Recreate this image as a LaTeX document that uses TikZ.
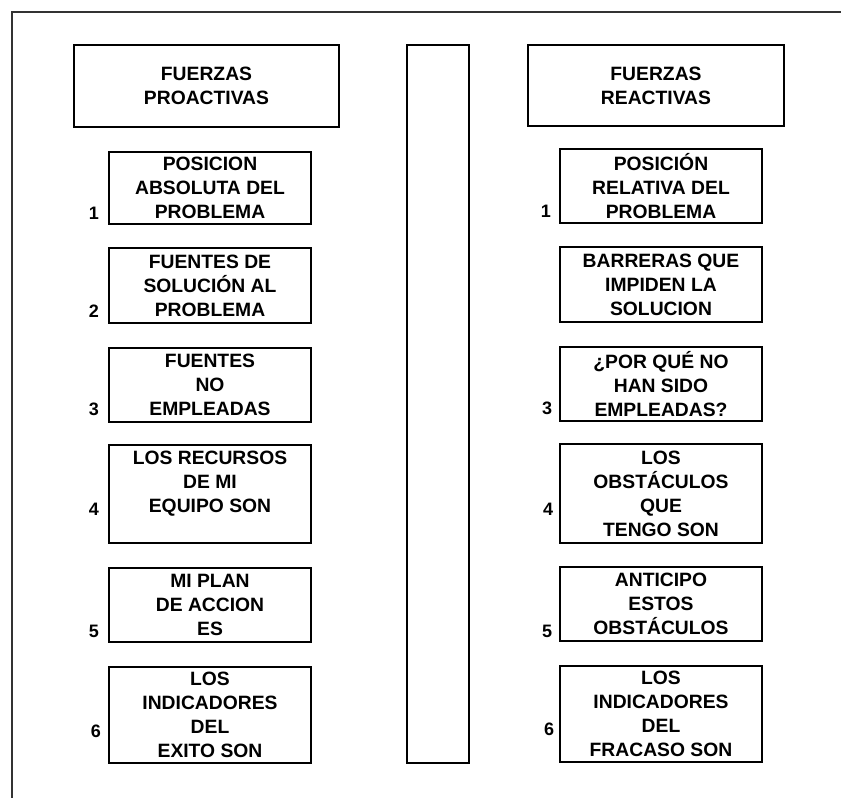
\documentclass[tikz,border=0pt]{standalone}
\usepackage{fontspec}
\setmainfont{Liberation Sans}
\begin{document}
\begin{tikzpicture}[x=1pt,y=-1pt,
  box/.style={draw=black, line width=1.7pt, inner sep=0pt, align=center,
    font=\fontsize{19.3}{24}\selectfont\bfseries},
  num/.style={inner sep=0pt, font=\fontsize{18}{20}\selectfont\bfseries}]
\useasboundingbox (0,0) rectangle (841,798);
% outer frame (top and left edges only)
\coordinate (fa) at (12,798);
\coordinate (fb) at (12,12);
\coordinate (fc) at (841,12);
\draw[line width=2.2pt, black!80] (fa) -- (fb) -- (fc);
% headers
\node[box, minimum width=265pt, minimum height=82pt] (hl) at (206.5,86) {FUERZAS\\PROACTIVAS};
\node[box, minimum width=256pt, minimum height=81pt] (hr) at (656,85.5) {FUERZAS\\REACTIVAS};
% center bar
\node[box, minimum width=62pt, minimum height=718pt] (mid) at (438,404) {};
% left column
\node[box, minimum width=202pt, minimum height=72pt] (l1) at (210,188) {POSICION\\ABSOLUTA DEL\\PROBLEMA};
\node[box, minimum width=202pt, minimum height=75pt] (l2) at (210,285.5) {FUENTES DE\\SOLUCIÓN AL\\PROBLEMA};
\node[box, minimum width=202pt, minimum height=74pt] (l3) at (210,385) {FUENTES\\NO\\EMPLEADAS};
\node[box, minimum width=202pt, minimum height=98pt] (l4) at (210,494) {LOS RECURSOS\\DE MI\\EQUIPO SON\\\mbox{}};
\node[box, minimum width=202pt, minimum height=74pt] (l5) at (210,605) {MI PLAN\\DE ACCION\\ES};
\node[box, minimum width=202pt, minimum height=96pt] (l6) at (210,715) {LOS\\INDICADORES\\DEL\\EXITO SON};
% right column
\node[box, minimum width=202pt, minimum height=74pt] (r1) at (661,186) {POSICIÓN\\RELATIVA DEL\\PROBLEMA};
\node[box, minimum width=202pt, minimum height=75pt] (r2) at (661,284.5) {BARRERAS QUE\\IMPIDEN LA\\SOLUCION};
\node[box, minimum width=202pt, minimum height=74pt] (r3) at (661,384) {¿POR QUÉ NO\\HAN SIDO\\EMPLEADAS?};
\node[box, minimum width=202pt, minimum height=99pt] (r4) at (661,493.5) {LOS\\OBSTÁCULOS\\QUE\\TENGO SON};
\node[box, minimum width=202pt, minimum height=74pt] (r5) at (661,604) {ANTICIPO\\ESTOS\\OBSTÁCULOS};
\node[box, minimum width=202pt, minimum height=96pt] (r6) at (661,714) {LOS\\INDICADORES\\DEL\\FRACASO SON};
% numbers
\node[num] (n1l) at (94,213) {1};
\node[num] (n2l) at (94,311) {2};
\node[num] (n3l) at (94,409) {3};
\node[num] (n4l) at (94,509) {4};
\node[num] (n5l) at (94,631) {5};
\node[num] (n6l) at (96,731) {6};
\node[num] (n1r) at (546,211) {1};
\node[num] (n3r) at (547,408) {3};
\node[num] (n4r) at (548,509) {4};
\node[num] (n5r) at (547,631) {5};
\node[num] (n6r) at (549,729) {6};
\end{tikzpicture}
\end{document}
